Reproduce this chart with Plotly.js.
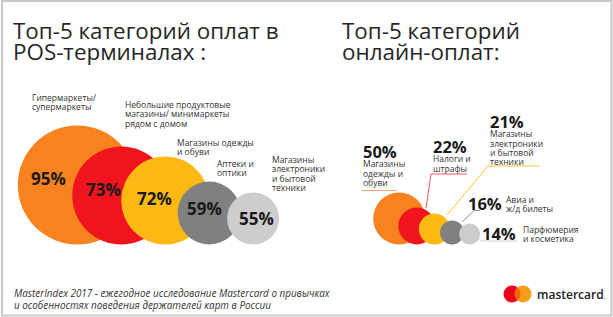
<!DOCTYPE html>
<html>
<head>
<meta charset="utf-8">
<script src="https://cdn.plot.ly/plotly-3.0.1.min.js"></script>
<style>html,body{margin:0;padding:0;background:#fff;}#chart{width:613px;height:317px;}</style>
</head>
<body>
<div id="chart"></div>
<script>
// ---- data ----
const posLabels = [
  ["Гипермаркеты/", "супермаркеты"],
  ["Небольшие продуктовые", "магазины/ минимаркеты", "рядом с домом"],
  ["Магазины одежды", "и обуви"],
  ["Аптеки и", "оптики"],
  ["Магазины", "электроники", "и бытовой", "техники"]
];
const posCategories = posLabels.map(l => l.join(" "));
const posValues = [95, 73, 72, 59, 55];

const onlineLabels = [
  ["Магазины", "одежды и", "обуви"],
  ["Налоги и", "штрафы"],
  ["Магазины", "электроники", "и бытовой", "техники"],
  ["Авиа и", "ж/д билеты"],
  ["Парфюмерия", "и косметика"]
];
const onlineCategories = onlineLabels.map(l => l.join(" "));
const onlineValues = [50, 22, 21, 16, 14];

const titleLeft = ["Топ-5 категорий оплат в", "POS-терминалах :"];
const titleRight = ["Топ-5 категорий", "онлайн-оплат:"];
const footer = ["MasterIndex 2017 - ежегодное исследование Mastercard о привычках",
                "и особенностях поведения держателей карт в России"];

// ---- style ----
const W = 613, H = 317;
const colors = ["#f7821f", "#f0141e", "#fdb913", "#808080", "#cdcdcd"];
const lineColors = ["#f6a772", "#f0545b", "#fcc52e", "#8c8c8c", "#cfcfcf"];
const posDiam = [119, 98, 88, 63, 52];
const onlineDiam = [52, 37, 31, 24, 21];
const baseline = 244.5;
const FONT = "Open Sans, sans-serif";
const px = x => x / W;
const py = y => 1 - y / H;

function catRange(originPx, stepPx) { return [-originPx / stepPx, (W - originPx) / stepPx]; }

const traces = [
  {
    type: "scatter", mode: "markers", xaxis: "x", yaxis: "y",
    x: posCategories, y: posDiam.map(d => baseline - d / 2),
    marker: { size: posDiam, color: colors, opacity: 1, line: { width: 0 } },
    hoverinfo: "skip", showlegend: false
  },
  {
    type: "scatter", mode: "markers", xaxis: "x2", yaxis: "y",
    x: onlineCategories, y: onlineDiam.map(d => baseline - d / 2),
    marker: { size: onlineDiam, color: colors, opacity: 1, line: { width: 0 } },
    hoverinfo: "skip", showlegend: false
  }
];

const annotations = [];
const shapes = [];

// one annotation per block; base font size sets the line spacing, spans set glyph size
function block(x, yCenter, lines, size, spacing, opts = {}) {
  const html = lines.map(l => {
    if (typeof l === "object") {
      return '<span style="font-size:' + l.size + 'px;font-weight:700;fill:' + (l.color || "#1a1a1a") + '">' + l.text + '</span>';
    }
    return '<span style="font-size:' + size + 'px">' + l + '</span>';
  }).join("<br>");
  annotations.push({
    xref: "paper", yref: "paper", x: px(x), y: py(yCenter), text: html,
    showarrow: false, xanchor: opts.anchor || "left", yanchor: "middle", align: opts.anchor || "left",
    borderpad: 0,
    font: { family: FONT, size: spacing / 1.3, color: opts.color || "#333", weight: opts.weight || 400, style: opts.style || "normal" }
  });
}

// titles
block(12, 41, titleLeft, 22.4, 20.5, { color: "#262626" });
block(341, 41, titleRight, 22.4, 20.5, { color: "#262626" });

// percent labels inside left bubbles
const posShift = [[-29, 7], [-18, 6.5], [-11, 2.5], [-5, 5], [3, 0.5]];
posValues.forEach((v, i) => {
  annotations.push({
    xref: "x", yref: "y", x: posCategories[i], y: baseline - posDiam[i] / 2,
    xshift: posShift[i][0], yshift: posShift[i][1],
    text: v + "%", showarrow: false, xanchor: "center", yanchor: "middle",
    font: { family: FONT, size: 17, color: "#1a1a1a", weight: 700 }
  });
});

// left category labels (x, first-line centre)
const posLabelPos = [[31, 97], [124, 105], [176, 142], [216, 163], [271, 160]];
posLabels.forEach((l, i) => {
  const n = l.length;
  block(posLabelPos[i][0], posLabelPos[i][1] + (n - 1) * 9.3 / 2, l, 8.5, 9.3, { color: "#333" });
});

// right chart: stacked percent + label blocks (first three)
const onStackPos = [[362, 163.6], [432, 154.5], [489, 138.8]];
for (let i = 0; i < 3; i++) {
  block(onStackPos[i][0], onStackPos[i][1], [{ text: onlineValues[i] + "%", size: 16.5 }].concat(onlineLabels[i]), 8.5, 9.3, { color: "#333" });
}
// side-by-side percent + label (last two)
const onSidePct = [[503, 203], [517, 233]];
const onSideLab = [[505, 203.6], [522, 233.6]];
for (let i = 3; i < 5; i++) {
  const k = i - 3;
  annotations.push({
    xref: "paper", yref: "paper", x: px(onSidePct[k][0]), y: py(onSidePct[k][1]),
    text: onlineValues[i] + "%", showarrow: false, xanchor: "right", yanchor: "middle", borderpad: 0,
    font: { family: FONT, size: 16.5, color: "#1a1a1a", weight: 700 }
  });
  block(onSideLab[k][0], onSideLab[k][1], onlineLabels[i], 8.5, 9.3, { color: "#333" });
}

// leader lines (decoration)
function seg(x0, y0, x1, y1, c) {
  shapes.push({ type: "line", xref: "paper", yref: "paper", x0: px(x0), y0: py(y0), x1: px(x1), y1: py(y1), line: { color: c, width: 1 } });
}
seg(362, 190.5, 397, 190.5, lineColors[0]);
seg(431, 174, 467, 174, lineColors[1]); seg(431, 174, 426, 208, lineColors[1]);
seg(488, 166, 540, 166, lineColors[2]); seg(488, 166, 447, 215, lineColors[2]);
seg(462, 222, 474, 210.5, lineColors[3]); seg(474, 210.5, 480, 210.5, lineColors[3]);
seg(477, 238, 481, 241, lineColors[4]); seg(481, 241, 517, 241, lineColors[4]);

// footer
block(13, 299, footer, 9.9, 12, { color: "#333", style: "italic" });

// mastercard logo
function circ(cx, cy, r, c) {
  shapes.push({ type: "circle", xref: "paper", yref: "paper", x0: px(cx - r), x1: px(cx + r), y0: py(cy + r), y1: py(cy - r), fillcolor: c, line: { width: 0 } });
}
circ(512, 294, 8.5, "#eb001b");
circ(523, 294, 8.5, "#f79e1b");
const P = (x, y) => px(x) + "," + py(y);
shapes.push({ type: "path", xref: "paper", yref: "paper",
  path: "M" + P(517.5, 287.5) + " Q" + P(523.5, 294) + " " + P(517.5, 300.5) + " Q" + P(511.5, 294) + " " + P(517.5, 287.5) + " Z",
  fillcolor: "#ff5f00", line: { width: 0 } });
annotations.push({
  xref: "paper", yref: "paper", x: px(536), y: py(294), text: "mastercard<span style=\"font-size:6px\">.</span>",
  showarrow: false, xanchor: "left", yanchor: "middle", borderpad: 0,
  font: { family: FONT, size: 12, color: "#222", weight: 600 }
});

// border
shapes.push({ type: "rect", xref: "paper", yref: "paper", x0: px(2), x1: px(611.5), y0: py(315.5), y1: py(1), line: { color: "#c8c8c8", width: 2 }, layer: "below" });

const hidden = { visible: false, showgrid: false, zeroline: false, fixedrange: true };
const layout = {
  width: W, height: H,
  margin: { l: 0, r: 0, t: 0, b: 0, pad: 0 },
  paper_bgcolor: "#ffffff", plot_bgcolor: "rgba(0,0,0,0)",
  xaxis: Object.assign({ type: "category", range: catRange(77.3, 43.95), domain: [0, 1] }, hidden),
  xaxis2: Object.assign({ type: "category", range: catRange(399.2, 17.6), overlaying: "x", domain: [0, 1] }, hidden),
  yaxis: Object.assign({ range: [H, 0], domain: [0, 1] }, hidden),
  annotations: annotations,
  shapes: shapes,
  showlegend: false,
  hovermode: false
};

Plotly.newPlot("chart", traces, layout, { staticPlot: true, displayModeBar: false });
</script>
</body>
</html>
